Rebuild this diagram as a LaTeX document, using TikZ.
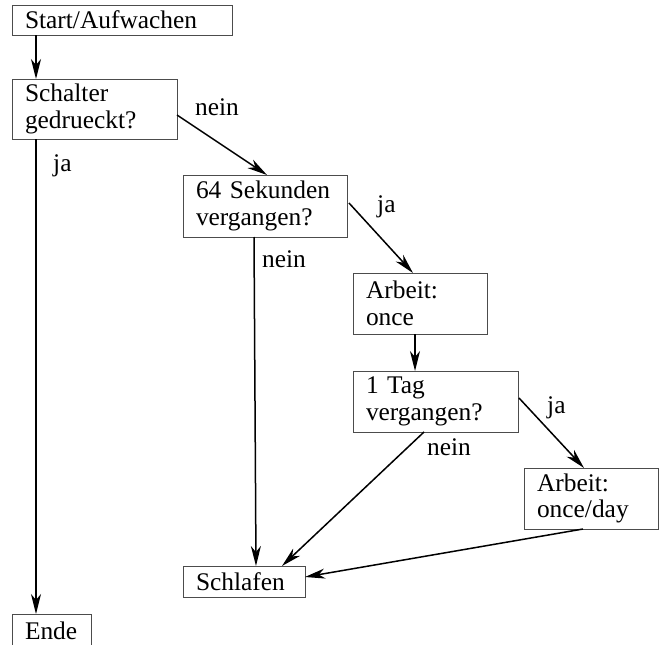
\documentclass[tikz,border=0pt]{standalone}
\usepackage{fontspec}
\setmainfont{Liberation Serif}
\usetikzlibrary{arrows.meta,calc}
\begin{document}
\begin{tikzpicture}[
  x=1pt, y=-1pt,
  every node/.style={font=\fontsize{25.4}{26.5}\selectfont},
  box/.style={draw=black!70, line width=0.9pt, anchor=north west, align=left,
              inner xsep=13pt, inner ysep=0pt, outer sep=0pt},
  lbl/.style={anchor=base west, inner sep=0pt},
  arr/.style={line width=1.5pt, -{Stealth[length=20pt,width=10pt,inset=6pt]}}
]
\useasboundingbox (0,0) rectangle (664,645);
\clip (0,0) rectangle (664,645);

% boxes
\node[box, text width=194pt, minimum height=30pt] (start) at (12,5) {Start/Aufwachen};
\node[box, text width=139pt, minimum height=60pt] (schalter) at (12,79) {Schalter\\gedrueckt?};
\node[box, text width=138pt, minimum height=62pt] (sek) at (183,175) {64 Sekunden\\vergangen?};
\node[box, text width=108pt, minimum height=61pt] (once) at (353,273) {Arbeit:\\once};
\node[box, text width=139pt, minimum height=61pt] (tag) at (353,371) {1 Tag\\vergangen?};
\node[box, text width=108pt, minimum height=61pt] (day) at (524,468) {Arbeit:\\once/day};
\node[box, text width=96pt, minimum height=31pt] (schlafen) at (183,566) {Schlafen};
\node[box, text width=53pt, minimum height=33pt] (ende) at (12,614) {Ende};

% connectors
\draw[arr] ($(start.south west)+(24,0)$) -- ($(schalter.north west)+(24,0)$);
\draw[arr] ($(schalter.north east)+(0,36)$) -- ($(sek.north west)+(84,0)$);
\draw[arr] ($(schalter.south west)+(24,0)$) -- ($(ende.north west)+(24,0)$);
\draw[arr] ($(sek.south west)+(71,0)$) -- ($(schlafen.north west)+(73,0)$);
\draw[arr] ($(sek.north east)+(2,28)$) -- ($(once.north west)+(60,0)$);
\draw[arr] ($(once.south west)+(62,0)$) -- ($(tag.north west)+(62,0)$);
\draw[arr] ($(tag.north east)+(1,27)$) -- ($(day.north west)+(60,0)$);
\draw[arr] ($(tag.south west)+(71,0)$) -- ($(schlafen.north west)+(99,0)$);
\draw[arr] ($(day.south west)+(59,0)$) -- ($(schlafen.north east)+(0,11)$);

% branch labels
\node[lbl] (l1) at (195,115) {nein};
\node[lbl] (l2) at (53,171) {ja};
\node[lbl] (l3) at (262,267) {nein};
\node[lbl] (l4) at (377,212) {ja};
\node[lbl] (l5) at (547,413) {ja};
\node[lbl] (l6) at (427,455) {nein};
\end{tikzpicture}
\end{document}
